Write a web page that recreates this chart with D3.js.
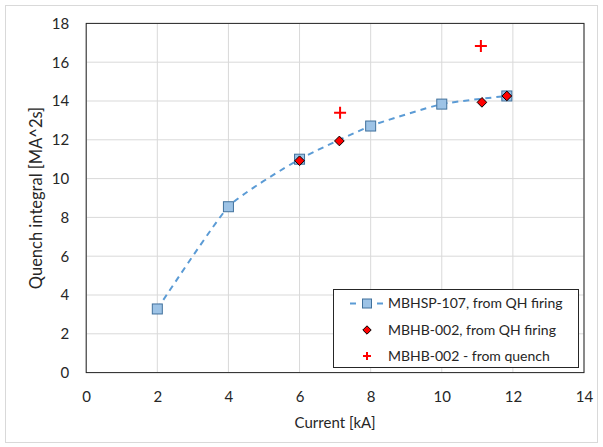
<!DOCTYPE html>
<html>
<head>
<meta charset="utf-8">
<script src="https://cdn.jsdelivr.net/npm/d3@7"></script>
<style>
    body { margin: 0; background: #fff; }
    text { font-family: Lato, "Liberation Sans", sans-serif; fill: #262626; }
</style>
</head>
<body>
<svg id="canvas" width="603" height="447"></svg>
<script>
(function () {

    // Data.
    const sqCurrent = [2, 4, 6, 8, 10, 11.83];
    const sqIntegral = [3.28, 8.55, 11.0, 12.71, 13.84, 14.26];
    const dmCurrent = [6.0, 7.12, 11.13, 11.83];
    const dmIntegral = [10.92, 11.94, 13.93, 14.26];
    const plCurrent = [7.14, 11.1];
    const plIntegral = [13.40, 16.83];
    const xTicks = [0, 2, 4, 6, 8, 10, 12, 14];
    const yTicks = [0, 2, 4, 6, 8, 10, 12, 14, 16, 18];
    const legendLabels = ["MBHSP-107, from QH firing", "MBHB-002, from QH firing", "MBHB-002 - from quench"];

    let padding = { top: 23.4, left: 86.2, right: 19, bottom: 74.4 };

    let svg = d3.select("#canvas");
    let width = +svg.attr("width") - padding.left - padding.right;
    let height = +svg.attr("height") - padding.top - padding.bottom;

    let xScale = d3.scaleLinear().domain([0, 14]).range([0, width]);
    let yScale = d3.scaleLinear().domain([0, 18]).range([height, 0]);

    // Outer chart border.
    svg.append("rect")
        .attr("x", 5.5).attr("y", 5.5)
        .attr("width", 592).attr("height", 437)
        .attr("fill", "#fff").attr("stroke", "#d9d9d9");

    let g = svg.append("g")
        .attr("transform", "translate(" + padding.left + ", " + padding.top + ")");

    // Gridlines.
    g.append("g").selectAll("line").data(xTicks).join("line")
        .attr("x1", d => xScale(d)).attr("x2", d => xScale(d))
        .attr("y1", 0).attr("y2", height)
        .attr("stroke", "#d9d9d9");
    g.append("g").selectAll("line").data(yTicks).join("line")
        .attr("x1", 0).attr("x2", width)
        .attr("y1", d => yScale(d)).attr("y2", d => yScale(d))
        .attr("stroke", "#d9d9d9");

    // Axes (labels only, plot border drawn separately).
    let xAxis = g.append("g")
        .attr("transform", "translate(0, " + height + ")")
        .call(d3.axisBottom(xScale).tickValues(xTicks).tickSize(0).tickPadding(19));
    let yAxis = g.append("g")
        .call(d3.axisLeft(yScale).tickValues(yTicks).tickSize(0).tickPadding(17));
    [xAxis, yAxis].forEach(a => {
        a.select(".domain").remove();
        a.selectAll("text")
            .attr("font-family", "Lato, 'Liberation Sans', sans-serif")
            .attr("font-size", 15).attr("fill", "#262626");
    });

    g.append("rect")
        .attr("x", 0).attr("y", 0)
        .attr("width", width).attr("height", height)
        .attr("fill", "none").attr("stroke", "#262626");

    // Axis titles.
    svg.append("text")
        .attr("x", padding.left + width / 2).attr("y", 428)
        .attr("text-anchor", "middle").attr("font-size", 15)
        .text("Current [kA]");
    svg.append("text")
        .attr("transform", "translate(42, " + (padding.top + height / 2) + ") rotate(-90)")
        .attr("text-anchor", "middle").attr("font-size", 16.5)
        .text("Quench integral [MA^2s]");

    // Smoothed dashed line through the squares.
    let sqData = sqCurrent.map((c, i) => ({ x: c, y: sqIntegral[i] }));
    let line = d3.line()
        .x(d => xScale(d.x))
        .y(d => yScale(d.y))
        .curve(d3.curveCardinal.tension(0.5));
    g.append("path")
        .datum(sqData)
        .attr("d", line)
        .attr("fill", "none")
        .attr("stroke", "#5b9bd5")
        .attr("stroke-width", 2)
        .attr("stroke-dasharray", "6,5");

    const SQ = 10;
    g.append("g").selectAll("rect").data(sqData).join("rect")
        .attr("x", d => xScale(d.x) - SQ / 2)
        .attr("y", d => yScale(d.y) - SQ / 2)
        .attr("width", SQ).attr("height", SQ)
        .attr("fill", "#9dc3e6")
        .attr("stroke", "#41719c");

    // Red diamonds.
    let dmData = dmCurrent.map((c, i) => ({ x: c, y: dmIntegral[i] }));
    let diamond = d3.symbol().type(d3.symbolDiamond2).size(60);
    g.append("g").selectAll("path").data(dmData).join("path")
        .attr("transform", d => "translate(" + xScale(d.x) + ", " + yScale(d.y) + ")")
        .attr("d", diamond)
        .attr("fill", "#ff0000")
        .attr("stroke", "#000");

    // Red plus markers.
    let plData = plCurrent.map((c, i) => ({ x: c, y: plIntegral[i] }));
    g.append("g").selectAll("path").data(plData).join("path")
        .attr("transform", d => "translate(" + xScale(d.x) + ", " + yScale(d.y) + ")")
        .attr("d", "M-6,0H6M0,-6V6")
        .attr("stroke", "#ff0000")
        .attr("stroke-width", 2);

    // Legend.
    let legend = svg.append("g");
    legend.append("rect")
        .attr("x", 333.5).attr("y", 289.5)
        .attr("width", 245).attr("height", 78)
        .attr("fill", "#fff").attr("stroke", "#262626");
    let ly = [303.5, 330, 356];
    legend.append("line")
        .attr("x1", 350).attr("x2", 384)
        .attr("y1", ly[0]).attr("y2", ly[0])
        .attr("stroke", "#5b9bd5").attr("stroke-width", 2)
        .attr("stroke-dasharray", "6,21");
    legend.append("rect")
        .attr("x", 367 - 4.5).attr("y", ly[0] - 4.5)
        .attr("width", 9).attr("height", 9)
        .attr("fill", "#9dc3e6").attr("stroke", "#41719c");
    legend.append("path")
        .attr("transform", "translate(367, " + ly[1] + ")")
        .attr("d", d3.symbol().type(d3.symbolDiamond2).size(45))
        .attr("fill", "#ff0000").attr("stroke", "#000");
    legend.append("path")
        .attr("transform", "translate(367, " + ly[2] + ")")
        .attr("d", "M-4,0H4M0,-4V4")
        .attr("stroke", "#ff0000").attr("stroke-width", 2);
    legend.selectAll("text.lab").data(legendLabels).join("text")
        .attr("class", "lab")
        .attr("x", 388).attr("y", (d, i) => ly[i])
        .attr("dy", "0.35em")
        .attr("font-size", 14)
        .text(d => d);

})();
</script>
</body>
</html>
